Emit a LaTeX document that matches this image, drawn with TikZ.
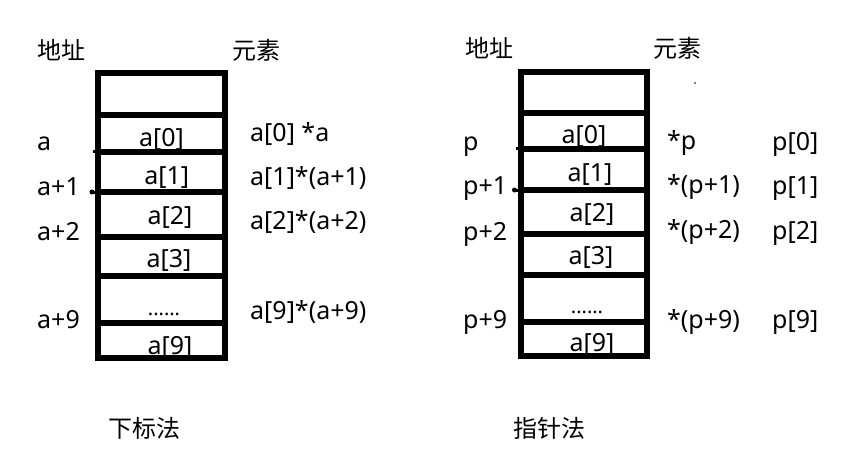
\documentclass[tikz,border=0pt]{standalone}
\usepackage{fontspec}
\setmainfont{Noto Sans}
\newfontfamily\cjk{Noto Sans CJK SC}
\begin{document}
\begin{tikzpicture}[x=1pt,y=-1pt,
  lbl/.style={anchor=base west, inner sep=0pt, font=\fontsize{25}{30}\selectfont},
  cell/.style={anchor=base, inner sep=0pt, font=\fontsize{25}{30}\selectfont},
  dots/.style={anchor=base, inner sep=0pt, font=\fontsize{20}{24}\selectfont},
  zh/.style={anchor=west, inner sep=0pt, font=\cjk\fontsize{24}{28}\selectfont},
  wall/.style={line width=6pt, line join=miter},
  nub/.style={line width=3pt},
]
\useasboundingbox[fill=white] (0,0) rectangle (856,466);

% ---------- left: subscript method ----------
\node[zh] (addrL) at (37,50) {地址};
\node[zh] (elemL) at (232,50) {元素};

\node[cell] (la0) at (161.5,146) {a[0]};
\node[cell] (la1) at (166.7,184) {a[1]};
\node[cell] (la2) at (170,224) {a[2]};
\node[cell] (la3) at (169,267) {a[3]};
\node[dots] (ladots) at (164,315) {......};
\node[cell] (la9) at (170,354) {a[9]};

\draw[wall] (98,73) rectangle (225,358);
\foreach \yy in {115,152,192,237,276,323} \draw[wall] (98,\yy) -- (225,\yy);
\draw[nub] (92.5,151.5) -- (98,151.5);
\fill (92,192) circle (2.5);
\draw[nub] (92,192) -- (98,192);

\node[lbl] (lA) at (37,150) {a};
\node[lbl] (lA1) at (37,195) {a+1};
\node[lbl] (lA2) at (37,240) {a+2};
\node[lbl] (lA9) at (37,328) {a+9};

\node[lbl] (le0) at (250,141) {a[0] *a};
\node[lbl] (le1) at (250,185) {a[1]*(a+1)};
\node[lbl] (le2) at (250,229) {a[2]*(a+2)};
\node[lbl] (le9) at (250,319) {a[9]*(a+9)};

\node[zh] (methL) at (108,428) {下标法};

% ---------- right: pointer method ----------
\node[zh] (addrR) at (465,48) {地址};
\node[zh] (elemR) at (653,48) {元素};

\node[cell] (ra0) at (584,143) {a[0]};
\node[cell] (ra1) at (590,181) {a[1]};
\node[cell] (ra2) at (592,221) {a[2]};
\node[cell] (ra3) at (591,264) {a[3]};
\node[dots] (radots) at (587,313) {......};
\node[cell] (ra9) at (592,351) {a[9]};

\draw[wall] (520.5,72) rectangle (647,356);
\foreach \yy in {113,149,190,234,275,322} \draw[wall] (520.5,\yy) -- (647,\yy);
\draw[nub] (515.5,148.5) -- (520.5,148.5);
\fill (514.5,190) circle (2.5);
\draw[nub] (514.5,190) -- (520.5,190);
\fill (695,83) circle (0.8);

\node[lbl] (rP) at (463,150) {p};
\node[lbl] (rP1) at (463,194) {p+1};
\node[lbl] (rP2) at (463,240) {p+2};
\node[lbl] (rP9) at (463,328) {p+9};

\node[lbl] (re0) at (667,149) {*p};
\node[lbl] (re1) at (667,193) {*(p+1)};
\node[lbl] (re2) at (667,238) {*(p+2)};
\node[lbl] (re9) at (667,328) {*(p+9)};

\node[lbl] (rq0) at (772,150) {p[0]};
\node[lbl] (rq1) at (772,194) {p[1]};
\node[lbl] (rq2) at (772,239) {p[2]};
\node[lbl] (rq9) at (772,328) {p[9]};

\node[zh] (methR) at (513,428) {指针法};
\end{tikzpicture}
\end{document}
